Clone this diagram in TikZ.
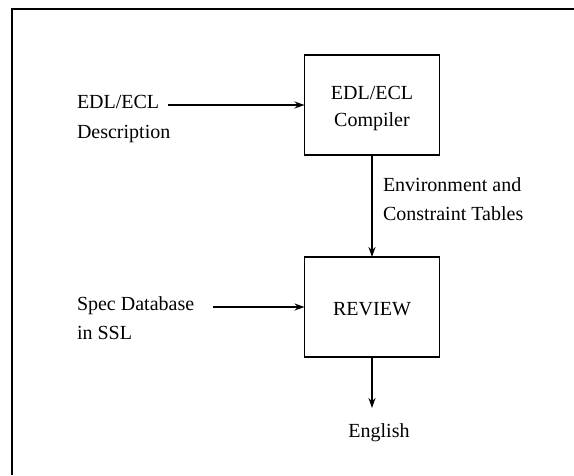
\documentclass[tikz,border=0pt]{standalone}
\usepackage{fontspec}
\setmainfont{Liberation Serif}
\usetikzlibrary{arrows.meta}
\begin{document}
\begin{tikzpicture}[x=1pt,y=1pt,
  every node/.style={inner sep=0pt, outer sep=0pt},
  txt/.style={font=\fontsize{20}{29.5}\selectfont, align=left, anchor=west},
  boxtxt/.style={font=\fontsize{20}{27}\selectfont, align=center},
  procbox/.style={draw, line width=1.8pt, minimum width=135pt, minimum height=100pt},
  flow/.style={line width=1.6pt, -{Stealth[length=10pt,width=7pt]}},
  frame/.style={line width=1.8pt}
]
\useasboundingbox (0,0) rectangle (574,-475);
% open frame: top and left edges only
\draw[frame] (574,-9) -- (12,-9) -- (12,-475);

% processing boxes
\node[procbox] (comp) at (372,-105) {};
\node[boxtxt] (comptxt) at (372,-109) {EDL/ECL\\Compiler};
\node[procbox] (rev) at (372,-307) {};
\node[boxtxt] (revtxt) at (372,-309) {REVIEW};

% inputs and outputs
\node[txt] (edl) at (77,-119) {EDL/ECL\\Description};
\node[txt] (spec) at (77,-318) {Spec Database\\in SSL};
\node[txt] (env) at (383,-199) {Environment and\\Constraint Tables};
\node[font=\fontsize{20}{29.5}\selectfont] (eng) at (379,-433) {English};

% connectors
\coordinate (a1) at (168,-105);
\coordinate (a2) at (213,-307);
\coordinate (a3) at (372,-408);
\draw[flow] (a1) -- (a1 -| comp.west);
\draw[flow] (a2) -- (a2 -| rev.west);
\draw[flow] (comp.south) -- (rev.north);
\draw[flow] (rev.south) -- (a3);
\end{tikzpicture}
\end{document}
